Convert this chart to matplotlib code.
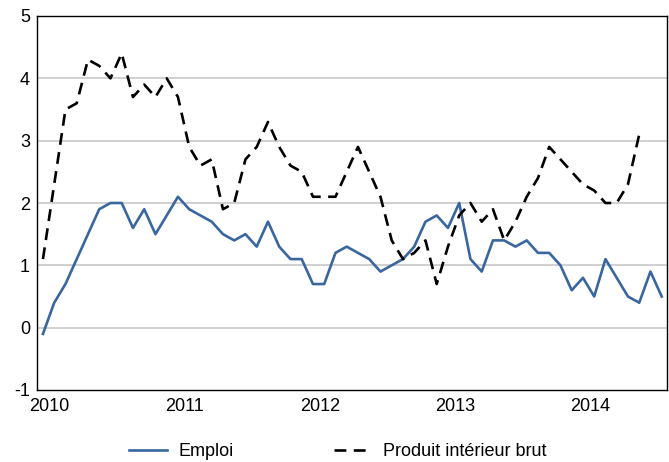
import numpy as np
import matplotlib
matplotlib.use("Agg")
import matplotlib.pyplot as plt
from matplotlib import font_manager

# pick a narrow sans if one is there
names = {f.name for f in font_manager.fontManager.ttflist}
if "Liberation Sans Narrow" in names:
    plt.rcParams["font.family"] = ["Liberation Sans Narrow", "DejaVu Sans"]
else:
    plt.rcParams["font.family"] = ["Liberation Sans", "DejaVu Sans"]
plt.rcParams["axes.unicode_minus"] = False

# monthly values, Jan 2010 onwards
emploi = [-0.1, 0.4, 0.7, 1.1, 1.5, 1.9, 2.0, 2.0, 1.6, 1.9, 1.5, 1.8,
          2.1, 1.9, 1.8, 1.7, 1.5, 1.4, 1.5, 1.3, 1.7, 1.3, 1.1, 1.1,
          0.7, 0.7, 1.2, 1.3, 1.2, 1.1, 0.9, 1.0, 1.1, 1.3, 1.7, 1.8,
          1.6, 2.0, 1.1, 0.9, 1.4, 1.4, 1.3, 1.4, 1.2, 1.2, 1.0, 0.6,
          0.8, 0.5, 1.1, 0.8, 0.5, 0.4, 0.9, 0.5]
pib = [1.1, 2.3, 3.5, 3.6, 4.3, 4.2, 4.0, 4.4, 3.7, 3.9, 3.7, 4.0,
       3.7, 2.9, 2.6, 2.7, 1.9, 2.0, 2.7, 2.9, 3.3, 2.9, 2.6, 2.5,
       2.1, 2.1, 2.1, 2.5, 2.9, 2.5, 2.1, 1.4, 1.1, 1.2, 1.4, 0.7,
       1.3, 1.8, 2.0, 1.7, 1.9, 1.4, 1.7, 2.1, 2.4, 2.9, 2.7, 2.5,
       2.3, 2.2, 2.0, 2.0, 2.3, 3.1]
years = ["2010", "2011", "2012", "2013", "2014"]

fig = plt.figure(figsize=(6.69, 4.62), dpi=100)
ax = fig.add_axes([37/669, 1 - 390/462, 630/669, 374/462])

ax.plot(np.arange(len(emploi)), emploi, color="#3A66A0", lw=1.9, label="Emploi")
ax.plot(np.arange(len(pib)), pib, color="black", lw=1.9, dashes=(4.5, 2.8),
        label="Produit intérieur brut")

ax.set_xlim(-0.53, 55.47)
ax.set_ylim(-1, 5)
ax.set_yticks(range(-1, 6))
ax.set_xticks([12 * i + 0.6 for i in range(len(years))])
ax.set_xticklabels(years)
ax.tick_params(length=0, labelsize=13, pad=6)
ax.tick_params(axis="y", pad=5)

for y in range(0, 5):
    ax.axhline(y, color="#c8c8c8", lw=1.2, zorder=0)
for s in ax.spines.values():
    s.set_color("black")
    s.set_linewidth(1.0)

fig.legend(loc="center", bbox_to_anchor=(338/669, 1 - 452/462), ncol=2,
           frameon=False, fontsize=13, handlelength=2.1, columnspacing=5.6,
           handletextpad=0.6)

fig.savefig("out.png", dpi=100)
